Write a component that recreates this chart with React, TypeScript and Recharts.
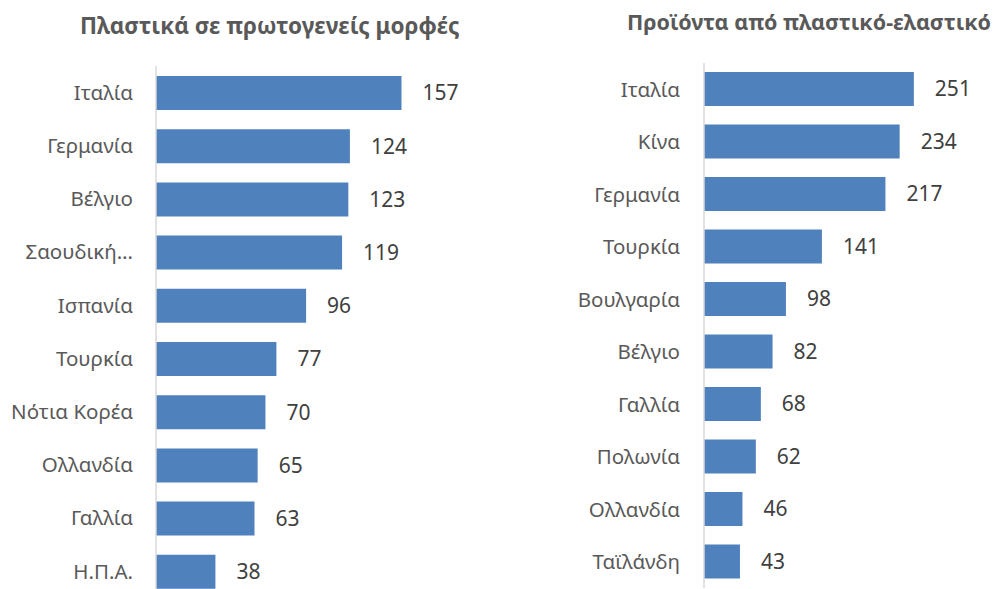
import { BarChart, Bar, XAxis, YAxis, LabelList } from "recharts";

const primaryCountries = [
  "Ιταλία",
  "Γερμανία",
  "Βέλγιο",
  "Σαουδική Αραβία",
  "Ισπανία",
  "Τουρκία",
  "Νότια Κορέα",
  "Ολλανδία",
  "Γαλλία",
  "Η.Π.Α.",
];
const primaryValues = [157, 124, 123, 119, 96, 77, 70, 65, 63, 38];

const productCountries = [
  "Ιταλία",
  "Κίνα",
  "Γερμανία",
  "Τουρκία",
  "Βουλγαρία",
  "Βέλγιο",
  "Γαλλία",
  "Πολωνία",
  "Ολλανδία",
  "Ταϊλάνδη",
];
const productValues = [251, 234, 217, 141, 98, 82, 68, 62, 46, 43];

const FONT = "'Noto Sans', sans-serif";
const BAR = "#4f81bd";

const shorten = (s: string) => (s.length > 12 ? s.slice(0, 8) + "…" : s);

function HBar({
  names,
  values,
  width,
  height,
  top,
  axisWidth,
  max,
  gap,
}: {
  names: string[];
  values: number[];
  width: number;
  height: number;
  top: number;
  axisWidth: number;
  max: number;
  gap: number;
}) {
  const data = names.map((name, i) => ({ name, value: values[i] }));
  return (
    <BarChart
      layout="vertical"
      width={width}
      height={height}
      data={data}
      margin={{ top, right: 0, bottom: 0, left: 0 }}
      barSize={34}
    >
      <XAxis type="number" domain={[0, max]} hide />
      <YAxis
        type="category"
        dataKey="name"
        width={axisWidth}
        tickLine={false}
        tickSize={0}
        tickMargin={gap}
        axisLine={{ stroke: "#d9d9d9", strokeWidth: 1.5 }}
        tickFormatter={shorten}
        tick={{ fill: "#595959", fontSize: 20.5, fontFamily: FONT }}
        interval={0}
      />
      <Bar dataKey="value" fill={BAR} isAnimationActive={false}>
        <LabelList
          dataKey="value"
          position="right"
          offset={21}
          fill="#404040"
          fontSize={21}
          fontFamily={FONT}
        />
      </Bar>
    </BarChart>
  );
}

const titleStyle: React.CSSProperties = {
  position: "absolute",
  fontFamily: FONT,
  fontWeight: 700,
  fontSize: 22.5,
  color: "#595959",
  whiteSpace: "nowrap",
  lineHeight: "26px",
};

export default function App() {
  return (
    <div
      style={{
        position: "absolute",
        left: 0,
        top: 0,
        width: 1007,
        height: 589,
        overflow: "hidden",
        background: "#fff",
      }}
    >
      <div style={{ ...titleStyle, left: 80, top: 13 }}>
        Πλαστικά σε πρωτογενείς μορφές
      </div>
      <div style={{ ...titleStyle, left: 627, top: 9, fontSize: 21.5 }}>
        Προϊόντα από πλαστικό-ελαστικό
      </div>
      <div style={{ position: "absolute", left: 0, top: 0 }}>
        <HBar
          names={primaryCountries}
          values={primaryValues}
          width={500}
          height={598}
          top={66}
          axisWidth={156}
          max={220}
          gap={23}
        />
      </div>
      <div style={{ position: "absolute", left: 500, top: 0 }}>
        <HBar
          names={productCountries}
          values={productValues}
          width={505}
          height={588}
          top={63}
          axisWidth={204}
          max={360}
          gap={24}
        />
      </div>
    </div>
  );
}
